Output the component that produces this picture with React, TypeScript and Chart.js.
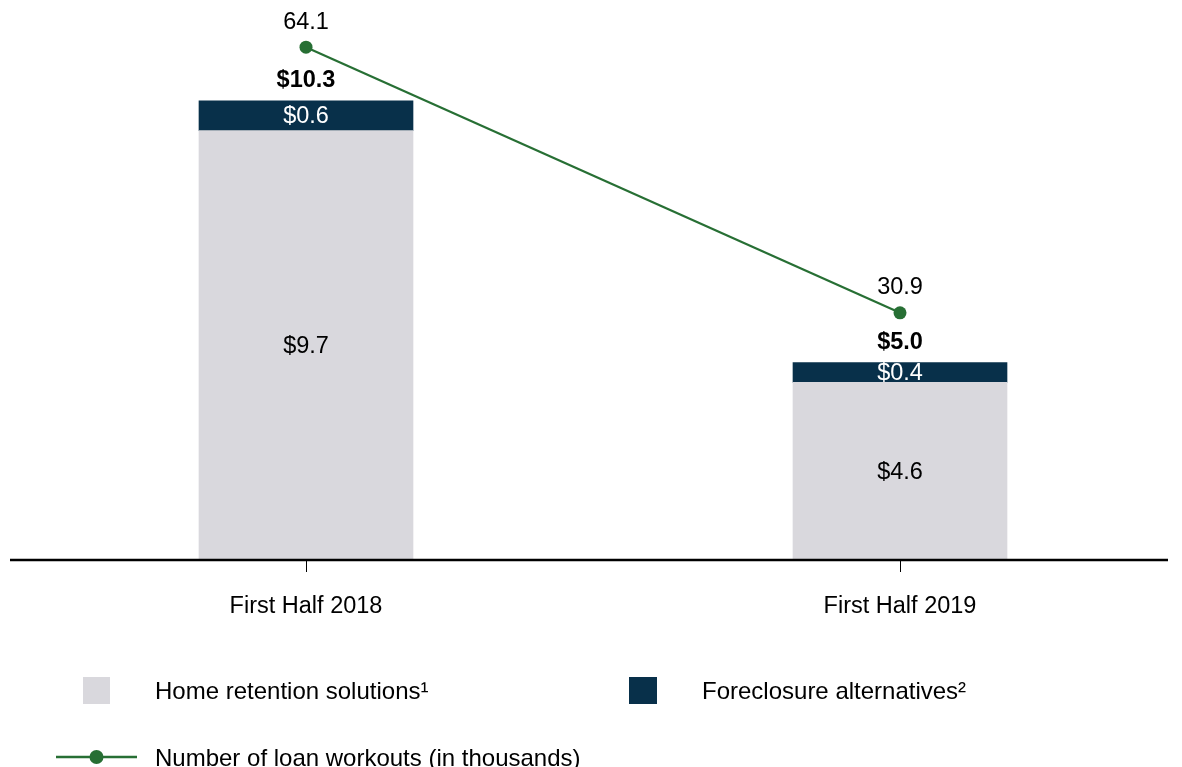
import React, { useEffect, useRef } from "react";
import { Chart, registerables } from "chart.js";

Chart.register(...registerables);

// ---- data ----
const categories = ["First Half 2018", "First Half 2019"];
const homeRetention = [9.7, 4.6];
const foreclosureAlt = [0.6, 0.4];
const loanWorkouts = [64.1, 30.9];
const seriesNames = [
  "Home retention solutions¹",
  "Foreclosure alternatives²",
  "Number of loan workouts (in thousands)",
];

// ---- styles ----
const W = 1166;
const H = 759;
const GRAY = "#D9D8DD";
const NAVY = "#08304A";
const GREEN = "#276F34";
const FONT = "'Liberation Sans', Arial, Helvetica, sans-serif";
const FS = 23.5;
const LFS = 24;

const fmt = (v: number) => "$" + v.toFixed(1);

const axisLinePlugin = {
  id: "axisLine",
  afterDatasetsDraw(chart: any) {
    const { ctx, chartArea } = chart;
    ctx.save();
    ctx.strokeStyle = "#000";
    ctx.lineWidth = 2.5;
    ctx.beginPath();
    ctx.moveTo(2, chartArea.bottom);
    ctx.lineTo(1160, chartArea.bottom);
    ctx.stroke();
    ctx.restore();
  },
};

const labelsPlugin = {
  id: "valueLabels",
  afterDatasetsDraw(chart: any) {
    const { ctx, chartArea } = chart;
    const lineMeta = chart.getDatasetMeta(0);
    const grayMeta = chart.getDatasetMeta(1);
    const navyMeta = chart.getDatasetMeta(2);
    ctx.save();
    ctx.textAlign = "center";
    ctx.textBaseline = "middle";
    grayMeta.data.forEach((el: any, i: number) => {
      const bottom = Math.min(el.base, chartArea.bottom);
      ctx.font = `${FS}px ${FONT}`;
      ctx.fillStyle = "#000";
      ctx.fillText(fmt(homeRetention[i]), el.x, (el.y + bottom) / 2 + 1);
    });
    navyMeta.data.forEach((el: any, i: number) => {
      ctx.font = `${FS}px ${FONT}`;
      ctx.fillStyle = "#fff";
      ctx.fillText(fmt(foreclosureAlt[i]), el.x, (el.y + el.base) / 2 + 1);
      ctx.font = `bold ${FS}px ${FONT}`;
      ctx.fillStyle = "#000";
      ctx.fillText(fmt(homeRetention[i] + foreclosureAlt[i]), el.x, el.y - 20);
    });
    lineMeta.data.forEach((el: any, i: number) => {
      ctx.font = `${FS}px ${FONT}`;
      ctx.fillStyle = "#000";
      ctx.fillText(loanWorkouts[i].toFixed(1), el.x, el.y - 25);
    });
    ctx.restore();
  },
};

const legendPlugin = {
  id: "customLegend",
  afterDraw(chart: any) {
    const { ctx } = chart;
    ctx.save();
    ctx.textAlign = "left";
    ctx.textBaseline = "middle";
    ctx.font = `${LFS}px ${FONT}`;
    // row 1
    ctx.fillStyle = GRAY;
    ctx.fillRect(75, 669, 27, 27);
    ctx.fillStyle = "#000";
    ctx.fillText(seriesNames[0], 147, 684);
    ctx.fillStyle = NAVY;
    ctx.fillRect(621, 669, 28, 27);
    ctx.fillStyle = "#000";
    ctx.fillText(seriesNames[1], 694, 684);
    // row 2
    ctx.strokeStyle = GREEN;
    ctx.lineWidth = 2.5;
    ctx.beginPath();
    ctx.moveTo(48, 749);
    ctx.lineTo(129, 749);
    ctx.stroke();
    ctx.fillStyle = GREEN;
    ctx.beginPath();
    ctx.arc(88.5, 749, 7, 0, Math.PI * 2);
    ctx.fill();
    ctx.fillStyle = "#000";
    ctx.fillText(seriesNames[2], 147, 751);
    ctx.restore();
  },
};

export default function App() {
  const ref = useRef<HTMLCanvasElement>(null);

  useEffect(() => {
    if (!ref.current) return;
    const chart = new Chart(ref.current, {
      type: "bar",
      data: {
        labels: categories,
        datasets: [
          {
            type: "line",
            label: seriesNames[2],
            data: loanWorkouts,
            yAxisID: "y2",
            borderColor: GREEN,
            backgroundColor: GREEN,
            borderWidth: 2.2,
            pointRadius: 6.5,
            pointBackgroundColor: GREEN,
            pointBorderWidth: 0,
            tension: 0,
            clip: false,
          } as any,
          {
            type: "bar",
            label: seriesNames[0],
            data: homeRetention,
            yAxisID: "y",
            backgroundColor: GRAY,
            borderWidth: 0,
            barThickness: 214,
            stack: "s",
            clip: { left: false, right: false, top: false, bottom: 0 },
          } as any,
          {
            type: "bar",
            label: seriesNames[1],
            data: foreclosureAlt,
            yAxisID: "y",
            backgroundColor: NAVY,
            borderWidth: 0,
            barThickness: 214,
            stack: "s",
            clip: { left: false, right: false, top: false, bottom: 0 },
          } as any,
        ],
      },
      options: {
        responsive: false,
        animation: false,
        devicePixelRatio: 1,
        layout: { padding: { left: 298, right: 274, top: 12, bottom: 147 } },
        plugins: {
          legend: { display: false },
          tooltip: { enabled: false },
        },
        scales: {
          x: {
            type: "category",
            stacked: true,
            offset: false,
            grid: {
              offset: false,
              drawOnChartArea: false,
              drawTicks: true,
              tickLength: 12,
              color: "#000",
              lineWidth: 1,
            },
            border: { display: false },
            ticks: {
              color: "#000",
              font: { family: FONT, size: FS },
              padding: 20,
              maxRotation: 0,
              autoSkip: false,
            },
            afterFit: (scale: any) => {
              scale.height = 60;
            },
          },
          y: {
            type: "linear",
            display: false,
            stacked: true,
            min: 1,
            max: 11.94,
          },
          y2: {
            type: "linear",
            display: false,
            min: 0,
            max: 67.5,
          },
        },
      },
      plugins: [axisLinePlugin, labelsPlugin, legendPlugin],
    });
    return () => chart.destroy();
  }, []);

  return (
    <div style={{ position: "fixed", left: 8, top: 8, width: W, height: H }}>
      <canvas ref={ref} width={W} height={H} style={{ width: W, height: H, display: "block" }} />
    </div>
  );
}
